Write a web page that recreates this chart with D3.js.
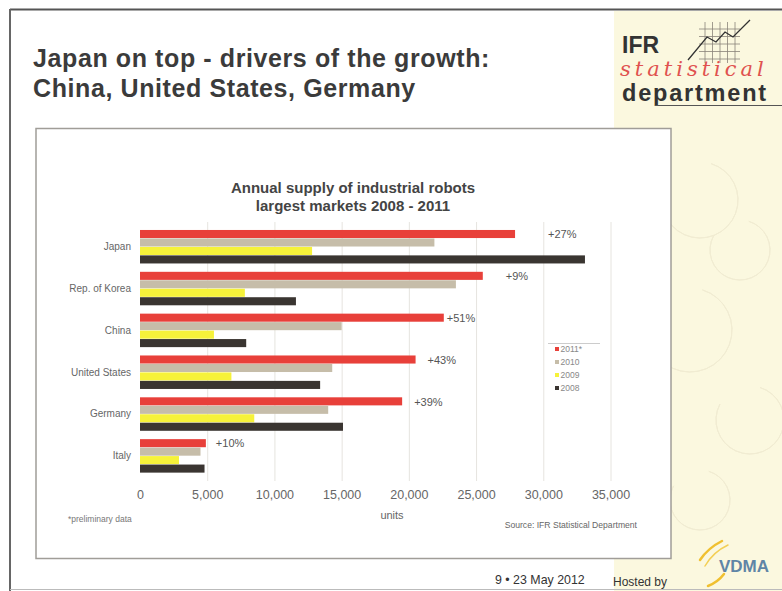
<!DOCTYPE html>
<html>
<head>
<meta charset="utf-8">
<script src="https://cdn.jsdelivr.net/npm/d3@7"></script>
<style>
  html, body { margin: 0; padding: 0; background: #ffffff; }
  svg { display: block; font-family: "Liberation Sans", Arial, sans-serif; }
</style>
</head>
<body>
<svg id="slide" width="782" height="591"></svg>
<script>
// Annual supply of industrial robots, largest markets 2008 - 2011 (units)
const countries = ["Japan", "Rep. of Korea", "China", "United States", "Germany", "Italy"];
const years = ["2011*", "2010", "2009", "2008"];
const units2011 = [27900, 25500, 22600, 20500, 19500, 4900];
const units2010 = [21900, 23500, 15000, 14300, 14000, 4500];
const units2009 = [12800, 7800, 5500, 6800, 8500, 2900];
const units2008 = [33100, 11600, 7900, 13400, 15100, 4800];
const growthLabels = ["+27%", "+9%", "+51%", "+43%", "+39%", "+10%"];
const xTicks = [0, 5000, 10000, 15000, 20000, 25000, 30000, 35000];

const seriesValues = [units2011, units2010, units2009, units2008];
const seriesColors = ["#e8403a", "#c6bda9", "#f6f23a", "#3a3531"];
// extra horizontal room for the growth labels, per country
const labelNudge = [33, 23, 3, 12, 12, 10];

const svg = d3.select("#slide");

// ---- slide background ----
svg.append("rect").attr("x", 614).attr("y", 11).attr("width", 168).attr("height", 580)
  .attr("fill", "#fbf8df");
// faint decorative swirls on the side panel
const swirl = svg.append("g").attr("fill", "none").attr("stroke", "#f1ecd2").attr("stroke-width", 1);
[[700, 200, 38], [740, 250, 30], [690, 330, 42], [750, 420, 34], [700, 500, 30]].forEach(([cx, cy, r]) => {
  swirl.append("path").attr("d", d3.arc()({innerRadius: r, outerRadius: r, startAngle: 0.3, endAngle: 5.2}))
    .attr("transform", `translate(${cx},${cy})`);
});

// slide frame lines
svg.append("line").attr("x1", 10).attr("x2", 782).attr("y1", 9.5).attr("y2", 9.5)
  .attr("stroke", "#555").attr("stroke-width", 2);
svg.append("line").attr("x1", 10).attr("x2", 10).attr("y1", 9).attr("y2", 591)
  .attr("stroke", "#666").attr("stroke-width", 2);
svg.append("line").attr("x1", 10).attr("x2", 782).attr("y1", 589.5).attr("y2", 589.5)
  .attr("stroke", "#bbb").attr("stroke-width", 1);

// ---- slide heading ----
const heading = svg.append("text").attr("fill", "#3b3b3b")
  .attr("font-size", 25).attr("font-weight", "bold").attr("letter-spacing", 0.6);
heading.append("tspan").attr("x", 33).attr("y", 67).text("Japan on top - drivers of the growth:");
heading.append("tspan").attr("x", 33).attr("y", 97).text("China, United States, Germany");

// ---- IFR logo ----
const logo = svg.append("g");
const gridG = logo.append("g").attr("stroke", "#8a8378").attr("stroke-width", 0.8);
d3.range(5).forEach(i => {
  gridG.append("line").attr("x1", 705 + i * 7.5).attr("x2", 705 + i * 7.5).attr("y1", 22).attr("y2", 63);
});
d3.range(5).forEach(i => {
  gridG.append("line").attr("x1", 699).attr("x2", 740).attr("y1", 29 + i * 7.5).attr("y2", 29 + i * 7.5);
});
logo.append("path").attr("d", "M688,60 L707,37 L716,42 L725,32 L733,37 L750,20")
  .attr("fill", "none").attr("stroke", "#333").attr("stroke-width", 1.3);
logo.append("text").attr("x", 622).attr("y", 52.5).attr("font-size", 23).attr("font-weight", "bold")
  .attr("fill", "#333").text("IFR");
logo.append("text").attr("x", 620).attr("y", 76).attr("font-size", 21).attr("font-style", "italic")
  .attr("font-family", "'DejaVu Serif', serif").attr("fill", "#e0524f").attr("letter-spacing", 4)
  .text("statistical");
logo.append("text").attr("x", 622).attr("y", 101).attr("font-size", 23.5).attr("font-weight", "bold")
  .attr("fill", "#333").attr("letter-spacing", 1.8).text("department");
logo.append("line").attr("x1", 655).attr("x2", 782).attr("y1", 105.5).attr("y2", 105.5)
  .attr("stroke", "#555").attr("stroke-width", 1);

// ---- chart panel ----
svg.append("rect").attr("x", 36).attr("y", 128.5).attr("width", 635).attr("height", 430)
  .attr("fill", "#ffffff").attr("stroke", "#a09d98").attr("stroke-width", 1.5);

svg.append("text").attr("x", 353).attr("y", 193).attr("text-anchor", "middle")
  .attr("font-size", 15).attr("font-weight", "bold").attr("fill", "#444")
  .text("Annual supply of industrial robots");
svg.append("text").attr("x", 353).attr("y", 211).attr("text-anchor", "middle")
  .attr("font-size", 15).attr("font-weight", "bold").attr("fill", "#444")
  .text("largest markets 2008 - 2011");

const x = d3.scaleLinear().domain([0, 35000]).range([140, 610.5]);
const y = d3.scaleBand().domain(countries).range([226, 477]).paddingInner(0.19).paddingOuter(0.095);
const ySub = d3.scaleBand().domain(years).range([0, y.bandwidth()]);

// vertical gridlines
svg.append("g").selectAll("line").data(xTicks.slice(1)).join("line")
  .attr("x1", d => x(d) + 0.5).attr("x2", d => x(d) + 0.5)
  .attr("y1", 222).attr("y2", 481)
  .attr("stroke", "#e6e4df").attr("stroke-width", 1);

// bars
const groups = svg.append("g").selectAll("g").data(countries).join("g")
  .attr("transform", c => `translate(0,${y(c)})`);
groups.selectAll("rect").data((c, i) => years.map((yr, s) => ({yr, s, v: seriesValues[s][i]})))
  .join("rect")
  .attr("x", x(0))
  .attr("y", d => ySub(d.yr))
  .attr("width", d => x(d.v) - x(0))
  .attr("height", ySub.bandwidth() - 0.4)
  .attr("fill", d => seriesColors[d.s]);

// growth labels next to the 2011 bars
svg.append("g").selectAll("text").data(countries).join("text")
  .attr("x", (c, i) => x(units2011[i]) + labelNudge[i])
  .attr("y", c => y(c) + ySub("2011*") + ySub.bandwidth() / 2 + 4)
  .attr("font-size", 11).attr("fill", "#555")
  .text((c, i) => growthLabels[i]);

// category axis
const yAxis = svg.append("g").attr("transform", "translate(131,0)")
  .call(d3.axisLeft(y).tickSize(0).tickPadding(0));
yAxis.select(".domain").remove();
yAxis.selectAll("text").attr("font-size", 10).attr("fill", "#666")
  .attr("font-family", "'Liberation Sans', Arial, sans-serif");

// value axis
const xAxis = svg.append("g").attr("transform", "translate(0,482)")
  .call(d3.axisBottom(x).tickValues(xTicks).tickFormat(d3.format(",")).tickSize(0).tickPadding(8));
xAxis.select(".domain").remove();
xAxis.selectAll("text").attr("font-size", 12.5).attr("fill", "#666")
  .attr("font-family", "'Liberation Sans', Arial, sans-serif");

svg.append("text").attr("x", 392).attr("y", 519).attr("text-anchor", "middle")
  .attr("font-size", 11).attr("fill", "#666").text("units");

// legend
svg.append("line").attr("x1", 548).attr("x2", 600).attr("y1", 343.5).attr("y2", 343.5)
  .attr("stroke", "#ccc").attr("stroke-width", 1);
const legend = svg.append("g").selectAll("g").data(years).join("g")
  .attr("transform", (d, i) => `translate(559,${349 + i * 13})`);
legend.append("rect").attr("x", -4).attr("y", -2).attr("width", 4).attr("height", 4)
  .attr("fill", (d, i) => seriesColors[i]);
legend.append("text").attr("x", 1.5).attr("y", 3).attr("font-size", 8.5).attr("fill", "#888")
  .text(d => d);

// notes
svg.append("text").attr("x", 68).attr("y", 522).attr("font-size", 8.5).attr("fill", "#777")
  .text("*preliminary data");
svg.append("text").attr("x", 637).attr("y", 528).attr("text-anchor", "end")
  .attr("font-size", 8.6).attr("fill", "#666").text("Source: IFR Statistical Department");

// ---- footer ----
svg.append("text").attr("x", 495).attr("y", 584).attr("font-size", 12.4).attr("fill", "#333")
  .text("9 \u2022  23 May 2012");
svg.append("text").attr("x", 613).attr("y", 586).attr("font-size", 12).attr("fill", "#333")
  .text("Hosted by");

// VDMA mark
const vdma = svg.append("g");
vdma.append("path").attr("d", "M700,560 Q708,548 722,541").attr("fill", "none")
  .attr("stroke", "#f0c030").attr("stroke-width", 2.5).attr("stroke-linecap", "round");
vdma.append("path").attr("d", "M705,566 Q713,552 728,545").attr("fill", "none")
  .attr("stroke", "#f3cf55").attr("stroke-width", 1.5).attr("stroke-linecap", "round");
vdma.append("path").attr("d", "M708,586 Q718,582 724,574").attr("fill", "none")
  .attr("stroke", "#f0c030").attr("stroke-width", 2.5).attr("stroke-linecap", "round");
vdma.append("text").attr("x", 719).attr("y", 572).attr("font-size", 17).attr("font-weight", "bold")
  .attr("fill", "#5f85a6").text("VDMA");
</script>
</body>
</html>
